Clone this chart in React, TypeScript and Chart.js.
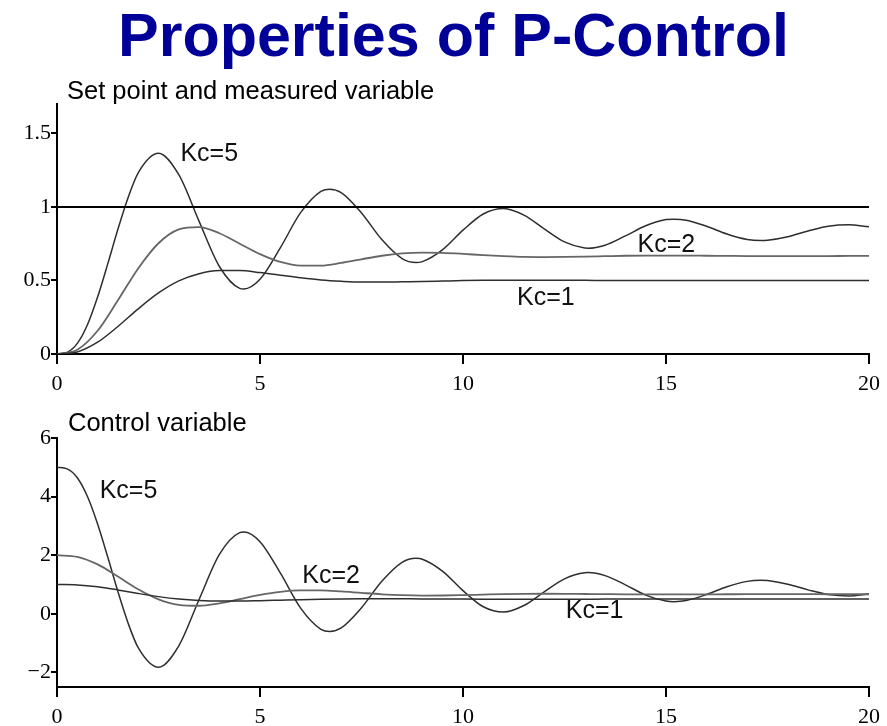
import React, { useEffect, useRef } from 'react';
import { Chart, registerables } from 'chart.js';

Chart.register(...registerables);

// time axis (s)
const T = [
  0, 0.5, 1, 1.5, 2, 2.5, 3, 3.5, 4, 4.5, 5, 5.5, 6, 6.5, 7, 7.5, 8, 8.5, 9, 9.5, 10,
  10.5, 11, 11.5, 12, 12.5, 13, 13.5, 14, 14.5, 15, 15.5, 16, 16.5, 17, 17.5, 18, 18.5, 19, 19.5, 20,
];
// time axis for Kc=5 (denser at the start, includes the turning points)
const T5 = [
  0, 0.25, 0.5, 0.75, 1, 1.25, 1.5, 1.75, 2, 2.5, 3, 3.5, 4, 4.5, 4.6, 5, 5.5, 6, 6.5, 6.72, 7, 7.5, 8,
  8.5, 8.84, 9, 9.5, 10, 10.5, 11, 11.5, 12, 12.5, 13, 13.08, 13.5, 14, 14.5, 15, 15.2, 15.5, 16, 16.5,
  17, 17.33, 17.5, 18, 18.5, 19, 19.5, 20,
];

// set point
const SP_T = [0, 20];
const SP_Y = [1, 1];

// measured variable
const Y_KC1 = [
  0, 0.014, 0.08, 0.187, 0.307, 0.415, 0.497, 0.546, 0.567, 0.567, 0.554, 0.536, 0.518, 0.503, 0.494,
  0.489, 0.489, 0.491, 0.493, 0.496, 0.499, 0.501, 0.502, 0.502, 0.502, 0.501, 0.501, 0.5, 0.5, 0.5,
  0.5, 0.5, 0.5, 0.5, 0.5, 0.5, 0.5, 0.5, 0.5, 0.5, 0.5,
];
const Y_KC2 = [
  0, 0.029, 0.158, 0.365, 0.582, 0.753, 0.847, 0.863, 0.821, 0.75, 0.679, 0.626, 0.601, 0.601, 0.619,
  0.644, 0.668, 0.684, 0.69, 0.688, 0.681, 0.672, 0.665, 0.66, 0.659, 0.66, 0.662, 0.665, 0.668, 0.669,
  0.669, 0.669, 0.668, 0.667, 0.666, 0.666, 0.666, 0.666, 0.666, 0.667, 0.667,
];
const Y_KC5 = [
  0, 0.011, 0.072, 0.199, 0.387, 0.613, 0.848, 1.063, 1.232, 1.365, 1.219, 0.902, 0.595, 0.446, 0.442,
  0.508, 0.722, 0.961, 1.106, 1.121, 1.097, 0.959, 0.778, 0.649, 0.622, 0.628, 0.71, 0.842, 0.952, 0.989,
  0.944, 0.851, 0.762, 0.72, 0.719, 0.74, 0.803, 0.872, 0.914, 0.917, 0.91, 0.869, 0.816, 0.779, 0.772,
  0.774, 0.798, 0.837, 0.869, 0.879, 0.865,
];

// control variable
const U_KC1 = [
  1, 0.986, 0.92, 0.813, 0.693, 0.585, 0.503, 0.454, 0.433, 0.433, 0.446, 0.464, 0.482, 0.497, 0.506,
  0.511, 0.511, 0.509, 0.507, 0.504, 0.501, 0.499, 0.498, 0.498, 0.498, 0.499, 0.499, 0.5, 0.5, 0.5,
  0.5, 0.5, 0.5, 0.5, 0.5, 0.5, 0.5, 0.5, 0.5, 0.5, 0.5,
];
const U_KC2 = [
  2, 1.942, 1.684, 1.271, 0.836, 0.494, 0.306, 0.274, 0.358, 0.499, 0.642, 0.748, 0.798, 0.798, 0.762,
  0.712, 0.665, 0.633, 0.62, 0.624, 0.638, 0.655, 0.671, 0.68, 0.683, 0.681, 0.675, 0.669, 0.664, 0.662,
  0.661, 0.662, 0.664, 0.666, 0.668, 0.669, 0.669, 0.668, 0.667, 0.667, 0.666,
];
const U_KC5 = [
  5, 4.946, 4.642, 4.003, 3.065, 1.936, 0.76, -0.314, -1.158, -1.827, -1.094, 0.489, 2.027, 2.771, 2.791,
  2.461, 1.393, 0.193, -0.53, -0.606, -0.484, 0.204, 1.108, 1.755, 1.891, 1.862, 1.448, 0.788, 0.239,
  0.057, 0.281, 0.747, 1.192, 1.401, 1.405, 1.303, 0.987, 0.638, 0.433, 0.413, 0.452, 0.657, 0.921,
  1.106, 1.143, 1.132, 1.008, 0.815, 0.657, 0.607, 0.675,
];

// tick values
const X_TICKS = [0, 5, 10, 15, 20];
const TOP_Y_TICKS = [0, 0.5, 1, 1.5];
const BOTTOM_Y_TICKS = [-2, 0, 2, 4, 6];

// curve labels (text, anchored at left/baseline in data units)
const TOP_LABEL_TEXT = ['Kc=5', 'Kc=2', 'Kc=1'];
const TOP_LABEL_X = [3.04, 14.3, 11.33];
const TOP_LABEL_Y = [1.311, 0.691, 0.336];
const BOTTOM_LABEL_TEXT = ['Kc=5', 'Kc=2', 'Kc=1'];
const BOTTOM_LABEL_X = [1.05, 6.04, 12.53];
const BOTTOM_LABEL_Y = [3.95, 1.04, -0.15];

const SANS = '"Liberation Sans", Arial, Helvetica, sans-serif';
const SERIF = '"Liberation Serif", "Times New Roman", Times, serif';

const pts = (xs: number[], ys: number[]) => xs.map((x, i) => ({ x, y: ys[i] }));

const labelPlugin = {
  id: 'kcLabels',
  afterDatasetsDraw(chart: any, _args: any, opts: any) {
    const { ctx, scales } = chart;
    ctx.save();
    ctx.font = `25px ${SANS}`;
    ctx.fillStyle = '#111';
    ctx.textAlign = 'left';
    ctx.textBaseline = 'alphabetic';
    const texts: string[] = opts.texts || [];
    texts.forEach((t, i) => {
      ctx.fillText(t, scales.x.getPixelForValue(opts.xs[i]), scales.y.getPixelForValue(opts.ys[i]));
    });
    ctx.restore();
  },
};

function line(data: { x: number; y: number }[], color: string, width: number) {
  return {
    data,
    borderColor: color,
    borderWidth: width,
    pointRadius: 0,
    pointHoverRadius: 0,
    fill: false,
    cubicInterpolationMode: 'monotone',
  };
}

function scales(yMin: number, yMax: number, yTicks: number[], xHeight: number) {
  const grid = (len: number) => ({
    display: true,
    drawOnChartArea: false,
    drawTicks: true,
    tickLength: len,
    color: '#000',
    lineWidth: 2,
  });
  const border = { display: true, color: '#000', width: 2 };
  return {
    x: {
      type: 'linear',
      min: 0,
      max: 20,
      afterBuildTicks: (s: any) => {
        s.ticks = X_TICKS.map((v) => ({ value: v }));
      },
      afterFit: (s: any) => {
        s.height = xHeight;
      },
      grid: grid(10),
      border,
      ticks: {
        color: '#000',
        font: { family: SERIF, size: 22 },
        padding: 7,
        maxRotation: 0,
        autoSkip: false,
      },
    },
    y: {
      type: 'linear',
      min: yMin,
      max: yMax,
      afterBuildTicks: (s: any) => {
        s.ticks = yTicks.map((v) => ({ value: v }));
      },
      afterFit: (s: any) => {
        s.width = 57;
      },
      grid: grid(6),
      border,
      ticks: {
        color: '#000',
        font: { family: SERIF, size: 22 },
        padding: 0,
        callback: (v: any) => String(v).replace('-', '\u2212'),
      },
    },
  };
}

function baseOptions(pad: any, sc: any, labels: any) {
  return {
    animation: false,
    responsive: true,
    maintainAspectRatio: false,
    layout: { padding: pad },
    plugins: {
      legend: { display: false },
      tooltip: { enabled: false },
      title: { display: false },
      kcLabels: labels,
    },
    events: [],
    scales: sc,
  };
}

export default function App() {
  const topRef = useRef<HTMLCanvasElement>(null);
  const botRef = useRef<HTMLCanvasElement>(null);

  useEffect(() => {
    const top = new Chart(topRef.current as HTMLCanvasElement, {
      type: 'line',
      data: {
        datasets: [
          line(pts(SP_T, SP_Y), '#000', 2),
          line(pts(T, Y_KC1), '#2e2e2e', 1.5),
          line(pts(T, Y_KC2), '#666', 1.8),
          line(pts(T5, Y_KC5), '#2e2e2e', 1.5),
        ] as any,
      },
      options: baseOptions(
        { left: 0, right: 17, top: 104, bottom: 0 },
        scales(0, 1.7, TOP_Y_TICKS, 46),
        { texts: TOP_LABEL_TEXT, xs: TOP_LABEL_X, ys: TOP_LABEL_Y }
      ) as any,
      plugins: [labelPlugin as any],
    });

    const bottom = new Chart(botRef.current as HTMLCanvasElement, {
      type: 'line',
      data: {
        datasets: [
          line(pts(T, U_KC1), '#2e2e2e', 1.5),
          line(pts(T, U_KC2), '#666', 1.8),
          line(pts(T5, U_KC5), '#2e2e2e', 1.5),
        ] as any,
      },
      options: baseOptions(
        { left: 0, right: 17, top: 38, bottom: 0 },
        scales(-2.5, 6, BOTTOM_Y_TICKS, 39),
        { texts: BOTTOM_LABEL_TEXT, xs: BOTTOM_LABEL_X, ys: BOTTOM_LABEL_Y }
      ) as any,
      plugins: [labelPlugin as any],
    });

    return () => {
      top.destroy();
      bottom.destroy();
    };
  }, []);

  return (
    <div
      style={{
        position: 'absolute',
        left: 0,
        top: 0,
        width: 887,
        height: 726,
        background: '#fff',
        overflow: 'hidden',
      }}
    >
      <div style={{ position: 'absolute', left: 0, top: 0, width: 887, height: 400 }}>
        <canvas ref={topRef} />
      </div>
      <div style={{ position: 'absolute', left: 0, top: 400, width: 887, height: 326 }}>
        <canvas ref={botRef} />
      </div>
      <div
        style={{
          position: 'absolute',
          left: 118,
          top: 5,
          font: `bold 61px ${SANS}`,
          lineHeight: '61px',
          color: '#000099',
          whiteSpace: 'nowrap',
        }}
      >
        Properties of P-Control
      </div>
      <div
        style={{
          position: 'absolute',
          left: 67,
          top: 78,
          font: `25.5px ${SANS}`,
          lineHeight: '25px',
          color: '#000',
          whiteSpace: 'nowrap',
        }}
      >
        Set point and measured variable
      </div>
      <div
        style={{
          position: 'absolute',
          left: 68,
          top: 410,
          font: `25.5px ${SANS}`,
          lineHeight: '25px',
          color: '#000',
          whiteSpace: 'nowrap',
        }}
      >
        Control variable
      </div>
    </div>
  );
}
